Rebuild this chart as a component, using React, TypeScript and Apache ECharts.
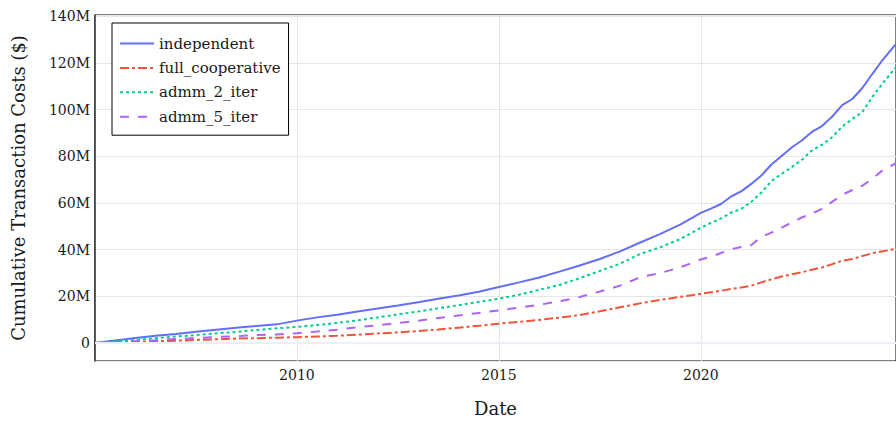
import React, { useEffect, useRef } from "react";
import * as echarts from "echarts";

const dates = [
  "2005-01","2005-07","2006-01","2006-07","2007-01","2007-07","2008-01","2008-07","2009-01","2009-07",
  "2010-01","2010-07","2011-01","2011-07","2012-01","2012-07","2013-01","2013-07","2014-01","2014-07",
  "2015-01","2015-07","2016-01","2016-07","2017-01","2017-07","2018-01","2018-07","2019-01","2019-07",
  "2020-01","2020-04","2020-07","2020-10","2021-01","2021-04","2021-07","2021-10","2022-01","2022-04",
  "2022-07","2022-10","2023-01","2023-04","2023-07","2023-10","2024-01","2024-04","2024-07","2024-11",
];

// values in millions of dollars
const independent = [
  0, 1.1, 2.2, 3.1, 3.9, 4.8, 5.7, 6.5, 7.3, 8.0,
  9.6, 11.0, 12.1, 13.5, 14.8, 16.1, 17.5, 19.0, 20.4, 22.0,
  24.0, 26.0, 28.1, 30.6, 33.2, 36.0, 39.3, 43.1, 46.8, 50.9,
  55.8, 57.6, 59.6, 62.8, 65.0, 68.2, 71.8, 76.5, 80.2, 83.8,
  86.8, 90.5, 93.0, 97.0, 102.0, 104.6, 109.3, 115.4, 121.3, 128.2,
];
const fullCooperative = [
  0, 0.3, 0.5, 0.8, 1.0, 1.3, 1.6, 1.9, 2.1, 2.3,
  2.5, 2.8, 3.1, 3.6, 4.1, 4.6, 5.1, 5.8, 6.6, 7.4,
  8.3, 9.1, 9.9, 10.9, 12.0, 13.6, 15.3, 17.0, 18.5, 19.8,
  21.1, 21.8, 22.4, 23.2, 23.8, 24.6, 26.0, 27.3, 28.5, 29.5,
  30.3, 31.4, 32.4, 33.8, 35.3, 36.0, 37.3, 38.5, 39.3, 40.4,
];
const admm2Iter = [
  0, 0.7, 1.4, 2.1, 2.8, 3.4, 4.1, 4.8, 5.6, 6.3,
  6.9, 7.7, 8.6, 9.7, 11.0, 12.3, 13.5, 14.9, 16.2, 17.6,
  19.0, 20.7, 22.8, 24.9, 27.8, 30.9, 34.0, 38.2, 41.1, 44.6,
  49.4, 51.5, 53.4, 55.9, 57.5, 60.5, 64.5, 69.4, 72.5, 75.4,
  78.5, 82.5, 85.0, 88.2, 92.8, 96.0, 99.0, 105.5, 111.2, 118.3,
];
const admm5Iter = [
  0, 0.4, 0.8, 1.2, 1.7, 2.1, 2.6, 2.9, 3.4, 3.7,
  4.2, 4.9, 5.7, 6.8, 7.6, 8.6, 9.6, 10.7, 11.8, 12.9,
  14.0, 15.2, 16.4, 17.9, 19.7, 22.1, 24.6, 28.2, 30.0, 32.5,
  35.8, 37.0, 38.6, 40.2, 41.2, 42.0, 45.5, 47.3, 49.5, 51.6,
  53.8, 55.5, 57.5, 60.5, 63.5, 65.6, 67.5, 70.4, 74.0, 77.1,
];

const seriesNames = ["independent", "full_cooperative", "admm_2_iter", "admm_5_iter"];
const seriesValues = [independent, fullCooperative, admm2Iter, admm5Iter];
const seriesColors = ["#636EFA", "#EF553B", "#00CC96", "#AB63FA"];
const seriesDash: any[] = ["solid", [9, 3, 3, 3], [3, 3], [9, 9]];

const xTickYears = [2010, 2015, 2020];

const toYear = (d: string) => {
  const [y, m] = d.split("-").map(Number);
  return y + (m - 1) / 12;
};

const FONT = "DejaVu Serif";

export default function App() {
  const ref = useRef<HTMLDivElement>(null);
  useEffect(() => {
    if (!ref.current) return;
    const chart = echarts.init(ref.current, undefined, { renderer: "svg" });
    const xs = dates.map(toYear);
    const series: any[] = seriesNames.map((name, i) => ({
      name,
      type: "line",
      showSymbol: false,
      symbol: "none",
      data: xs.map((x, j) => [x, seriesValues[i][j] * 1e6]),
      lineStyle: { color: seriesColors[i], width: 2, type: seriesDash[i] },
      itemStyle: { color: seriesColors[i] },
      z: 3,
    }));
    series.push({
      name: "zero",
      type: "line",
      data: [],
      z: 1,
      markLine: {
        silent: true,
        symbol: "none",
        label: { show: false },
        lineStyle: { color: "#EBF0F8", width: 2, type: "solid" },
        data: [{ yAxis: 0 }],
      },
    });
    chart.setOption({
      animation: false,
      textStyle: { fontFamily: FONT },
      grid: {
        left: 95,
        top: 15,
        right: -1,
        bottom: 59,
        show: true,
        borderColor: "#000",
        borderWidth: 1,
        backgroundColor: "#fff",
      },
      legend: {
        data: seriesNames,
        orient: "vertical",
        left: 112,
        top: 23,
        backgroundColor: "#fff",
        borderColor: "#000",
        borderWidth: 1,
        padding: [13, 8, 11, 7],
        itemWidth: 34,
        itemHeight: 14,
        itemGap: 9.4,
        itemStyle: { opacity: 0 },
        textStyle: { fontFamily: FONT, fontSize: 15, color: "#1a1a1a" },
      },
      xAxis: {
        type: "value",
        min: 2005,
        max: xs[xs.length - 1],
        interval: 5,
        name: "Date",
        nameLocation: "middle",
        nameGap: 38,
        nameTextStyle: { fontFamily: FONT, fontSize: 18, color: "#1a1a1a" },
        axisLine: { show: true, lineStyle: { color: "#000", width: 1 } },
        axisTick: { show: false },
        axisLabel: {
          fontFamily: FONT,
          fontSize: 14,
          color: "#1a1a1a",
          margin: 7,
          showMinLabel: false,
          showMaxLabel: false,
          formatter: (v: number) => (xTickYears.includes(Math.round(v * 1000) / 1000) ? String(v) : ""),
        },
        splitLine: { show: true, lineStyle: { color: "#E6E6E6", width: 1 } },
      },
      yAxis: {
        type: "value",
        min: -7.7e6,
        max: 140.6e6,
        splitNumber: 7,
        name: "Cumulative Transaction Costs ($)",
        nameLocation: "middle",
        nameGap: 68,
        nameTextStyle: { fontFamily: FONT, fontSize: 18, color: "#1a1a1a" },
        axisLine: { show: true, lineStyle: { color: "#333", width: 1.5 } },
        axisTick: { show: false },
        axisLabel: {
          fontFamily: FONT,
          fontSize: 14,
          color: "#1a1a1a",
          margin: 5,
          formatter: (v: number) => {
            if (v < 0 || Math.abs(v % 20e6) > 1) return "";
            return v === 0 ? "0" : v / 1e6 + "M";
          },
        },
        splitLine: { show: true, lineStyle: { color: "#E6E6E6", width: 1 } },
      },
      series,
    });
    return () => chart.dispose();
  }, []);
  return (
    <div
      ref={ref}
      style={{ position: "fixed", left: 0, top: 0, width: 896, height: 422, background: "#fff" }}
    />
  );
}
